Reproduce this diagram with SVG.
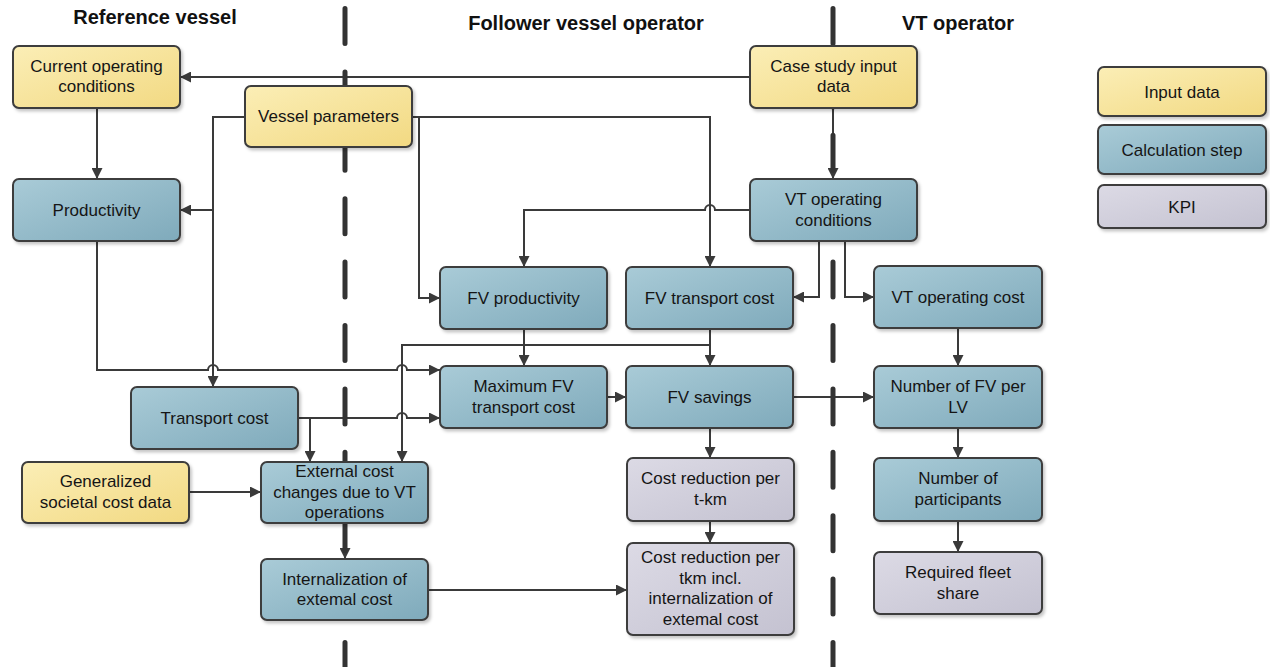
<svg xmlns="http://www.w3.org/2000/svg" width="1270" height="667" viewBox="0 0 1270 667">
<defs>
<linearGradient id="gY" x1="0" y1="0" x2="1" y2="1"><stop offset="0" stop-color="#FBEEB6"/><stop offset="1" stop-color="#F2D982"/></linearGradient>
<linearGradient id="gB" x1="0" y1="0" x2="1" y2="1"><stop offset="0" stop-color="#A9CBD7"/><stop offset="1" stop-color="#7FAABB"/></linearGradient>
<linearGradient id="gG" x1="0" y1="0" x2="1" y2="1"><stop offset="0" stop-color="#DCDAE5"/><stop offset="1" stop-color="#C4C2D1"/></linearGradient>
<filter id="sh" x="-10%" y="-10%" width="125%" height="130%"><feDropShadow dx="2" dy="2.5" stdDeviation="1.5" flood-color="#000" flood-opacity="0.22"/></filter>
<marker id="ar" markerUnits="userSpaceOnUse" markerWidth="12" markerHeight="11" refX="11" refY="5.5" orient="auto"><path d="M0,0 L11,5.5 L0,11 z" fill="#3a3a3a"/></marker>
</defs>
<style>
.box{stroke:#3c3c3c;stroke-width:2;filter:url(#sh)}
.y{fill:url(#gY)}
.b{fill:url(#gB)}
.g{fill:url(#gG)}
.t{font-family:"Liberation Sans",Arial,sans-serif;font-size:17px;fill:#151515;text-anchor:middle}
.h{font-family:"Liberation Sans",Arial,sans-serif;font-size:20px;font-weight:bold;fill:#111;text-anchor:middle}
.c{fill:none;stroke:#3a3a3a;stroke-width:2}
.a{marker-end:url(#ar)}
.dash{stroke:#333;stroke-width:5;stroke-linecap:round;stroke-dasharray:35 28.4}
</style>
<rect width="1270" height="667" fill="#fff"/>
<g id="headers">
<text class="h" x="155" y="24">Reference vessel</text>
<text class="h" x="586" y="30">Follower vessel operator</text>
<text class="h" x="958" y="30">VT operator</text>
</g>
<g id="connectors">
<path class="c a" d="M750 77 H180"/>
<path class="c a" d="M97 108 V179"/>
<path class="c a" d="M245 117 H213 V387"/>
<path class="c a" d="M213 210 H180"/>
<path class="c a" d="M412 117 H710 V267"/>
<path class="c a" d="M419 117 V298 H440"/>
<path class="c a" d="M833 108 V179"/>
<path class="c a" d="M750 210 H715 A5 5 0 0 0 705 210 H524 V267"/>
<path class="c a" d="M819 241 V297 H793"/>
<path class="c a" d="M845 241 V297 H874"/>
<path class="c a" d="M524 329 V366"/>
<path class="c a" d="M710 329 V366"/>
<path class="c a" d="M710 345 H402 V462"/>
<path class="c a" d="M97 241 V370 H208 A5 5 0 0 1 218 370 H397 A5 5 0 0 1 407 370 H440"/>
<path class="c a" d="M298 418 H397 A5 5 0 0 1 407 418 H440"/>
<path class="c a" d="M310 418 V462"/>
<path class="c a" d="M607 397 H626"/>
<path class="c a" d="M793 397 H874"/>
<path class="c a" d="M958 328 V366"/>
<path class="c a" d="M958 428 V458"/>
<path class="c a" d="M958 521 V552"/>
<path class="c a" d="M710 428 V458"/>
<path class="c a" d="M710 521 V543"/>
<path class="c a" d="M189 492 H261"/>
<path class="c a" d="M345 523 V559"/>
<path class="c a" d="M428 590 H627"/>
</g>
<g id="swimlanes">
<line class="dash" x1="345" y1="8.5" x2="345" y2="670"/>
<line class="dash" x1="833" y1="8.5" x2="833" y2="670"/>
</g>
<g id="cur"><rect class="box y" x="13" y="46" width="167" height="62" rx="6"/><text class="t" x="96.5" y="72">Current operating</text><text class="t" x="96.5" y="92">conditions</text></g>
<g id="vp"><rect class="box y" x="245" y="86" width="167" height="61" rx="6"/><text class="t" x="328.5" y="121.5">Vessel parameters</text></g>
<g id="cs"><rect class="box y" x="750" y="46" width="167" height="62" rx="6"/><text class="t" x="833.5" y="72">Case study input</text><text class="t" x="833.5" y="92">data</text></g>
<g id="prod"><rect class="box b" x="13" y="179" width="167" height="62" rx="6"/><text class="t" x="96.5" y="215.5">Productivity</text></g>
<g id="vtoc"><rect class="box b" x="750" y="179" width="167" height="62" rx="6"/><text class="t" x="833.5" y="205">VT operating</text><text class="t" x="833.5" y="225.5">conditions</text></g>
<g id="fvp"><rect class="box b" x="440" y="267" width="167" height="62" rx="6"/><text class="t" x="523.5" y="303.5">FV productivity</text></g>
<g id="fvtc"><rect class="box b" x="626" y="267" width="167" height="62" rx="6"/><text class="t" x="709.5" y="303.5">FV transport cost</text></g>
<g id="vtcost"><rect class="box b" x="874" y="266" width="168" height="62" rx="6"/><text class="t" x="958" y="302.5">VT operating cost</text></g>
<g id="maxfv"><rect class="box b" x="440" y="366" width="167" height="62" rx="6"/><text class="t" x="523.5" y="392">Maximum FV</text><text class="t" x="523.5" y="412.5">transport cost</text></g>
<g id="fvs"><rect class="box b" x="626" y="366" width="167" height="62" rx="6"/><text class="t" x="709.5" y="402.5">FV savings</text></g>
<g id="nfv"><rect class="box b" x="874" y="366" width="168" height="62" rx="6"/><text class="t" x="958" y="392">Number of FV per</text><text class="t" x="958" y="412.5">LV</text></g>
<g id="tc"><rect class="box b" x="131" y="387" width="167" height="62" rx="6"/><text class="t" x="214.5" y="423.5">Transport cost</text></g>
<g id="gen"><rect class="box y" x="22" y="462" width="167" height="61" rx="6"/><text class="t" x="105.5" y="487">Generalized</text><text class="t" x="105.5" y="507.5">societal cost data</text></g>
<g id="ext"><rect class="box b" x="261" y="462" width="167" height="61" rx="6"/><text class="t" x="344.5" y="477">External cost</text><text class="t" x="344.5" y="497.5">changes due to VT</text><text class="t" x="344.5" y="518">operations</text></g>
<g id="crt"><rect class="box g" x="627" y="458" width="167" height="63" rx="6"/><text class="t" x="710.5" y="484">Cost reduction per</text><text class="t" x="710.5" y="504.5">t-km</text></g>
<g id="np"><rect class="box b" x="874" y="458" width="168" height="63" rx="6"/><text class="t" x="958" y="484">Number of</text><text class="t" x="958" y="504.5">participants</text></g>
<g id="int"><rect class="box b" x="261" y="559" width="167" height="61" rx="6"/><text class="t" x="344.5" y="584.5">Internalization of</text><text class="t" x="344.5" y="605">extemal cost</text></g>
<g id="cri"><rect class="box g" x="627" y="543" width="167" height="92" rx="6"/><text class="t" x="710.5" y="563">Cost reduction per</text><text class="t" x="710.5" y="583.5">tkm incl.</text><text class="t" x="710.5" y="604">internalization of</text><text class="t" x="710.5" y="624.5">extemal cost</text></g>
<g id="rfs"><rect class="box g" x="874" y="552" width="168" height="62" rx="6"/><text class="t" x="958" y="578">Required fleet</text><text class="t" x="958" y="598.5">share</text></g>
<g id="legend-input"><rect class="box y" x="1098" y="67" width="168" height="49" rx="6"/><text class="t" x="1182" y="97.5">Input data</text></g>
<g id="legend-calc"><rect class="box b" x="1098" y="125" width="168" height="49" rx="6"/><text class="t" x="1182" y="155.5">Calculation step</text></g>
<g id="legend-kpi"><rect class="box g" x="1098" y="185" width="168" height="43" rx="6"/><text class="t" x="1182" y="212.5">KPI</text></g>
</svg>
